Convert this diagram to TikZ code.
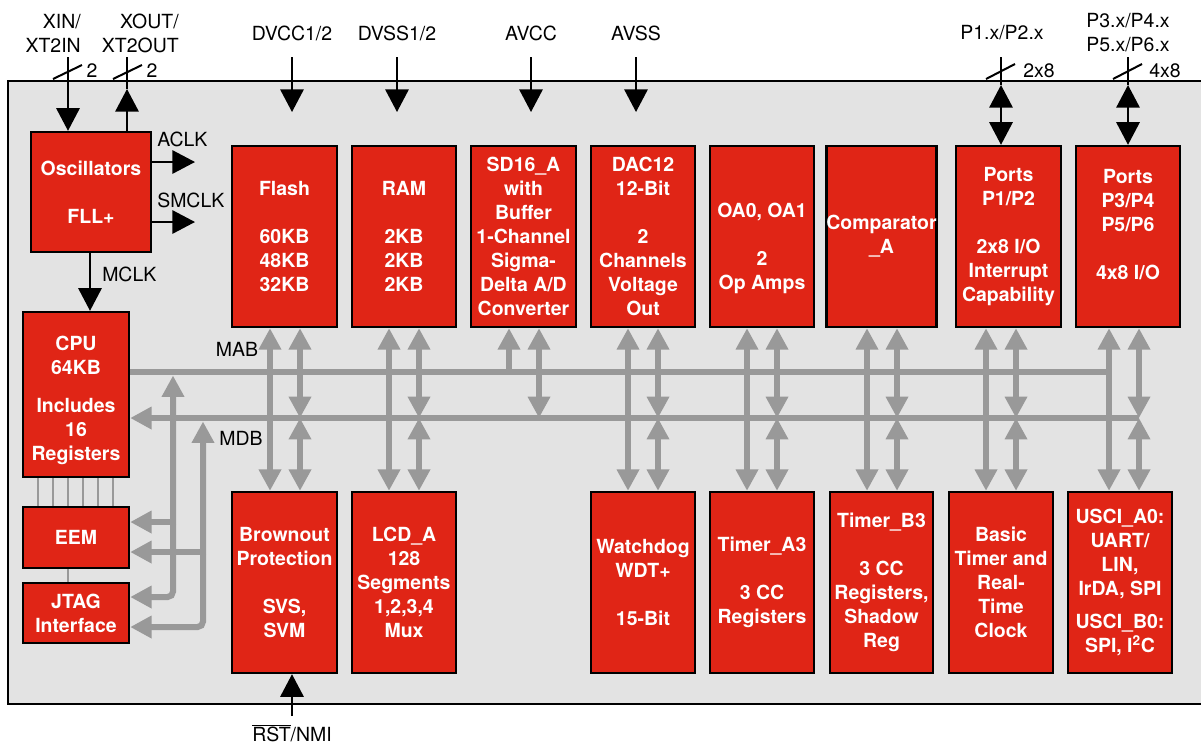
\documentclass[tikz,border=0pt]{standalone}
\usepackage{fontspec}
\setmainfont{TeX Gyre Heros}
\usetikzlibrary{arrows.meta}
\definecolor{tired}{RGB}{224,37,22}
\definecolor{busgray}{RGB}{153,153,153}
\definecolor{bggray}{RGB}{227,227,227}
\newcommand\mkblock[6]{\node[block,minimum width={(#4-#2)*0.75pt},minimum height={(#5-#3)*0.75pt}] (#1) at ({(#2+#4)/2},{(#3+#5)/2}) {#6};}
\tikzset{
  block/.style={draw=black, line width=1.8pt, fill=tired, text=white,
    font=\fontsize{14.6}{18}\selectfont\bfseries, align=center, inner sep=0pt},
  lab/.style={font=\fontsize{14.6}{18}\selectfont, inner sep=0pt},
  gtip/.tip={Triangle[width=16pt,length=16pt]},
  btip/.tip={Triangle[width=17.5pt,length=17pt]},
  gbus/.style={draw=busgray, line width=4.5pt},
  gthin/.style={draw=busgray, line width=1.3pt},
  bline/.style={draw=black, line width=1.5pt},
  barr/.style={bline, -btip},
}
\begin{document}
\begin{tikzpicture}[x=0.75pt,y=-0.75pt]
\useasboundingbox (0,0) rectangle (1201,744);
\fill[white] (0,0) rectangle (1201,744);
\draw[fill=bggray, line width=1.5pt] (8,81) rectangle (1210,704);

\coordinate (mab) at (0,372);
\coordinate (mdb) at (0,418);

% ---------- blocks ----------
\mkblock{osc}{31}{132}{151}{252}{Oscillators\\[18pt]FLL+}
\mkblock{cpu}{23}{312}{129}{477}{\rule{0pt}{10.5pt}\\[-9pt]CPU\\64KB\\[10.5pt]Includes\\16\\Registers}
\mkblock{eem}{23}{507}{129}{568}{EEM}
\mkblock{jtag}{23}{583}{129}{643}{JTAG\\Interface}
\mkblock{flash}{232}{146}{337}{327}{Flash\\[18pt]60KB\\48KB\\32KB}
\mkblock{ram}{352}{146}{456}{327}{RAM\\[18pt]2KB\\2KB\\2KB}
\mkblock{sd}{471}{146}{576}{327}{SD16\_A\\with\\Buffer\\1-Channel\\Sigma-\\Delta A/D\\Converter}
\mkblock{dac}{591}{146}{695}{327}{DAC12\\12-Bit\\[18pt]2\\Channels\\Voltage\\Out}
\mkblock{oa}{710}{146}{814}{327}{\rule{0pt}{10.5pt}\\OA0, OA1\\[18pt]2\\Op Amps}
\mkblock{comp}{830}{146}{933}{327}{Comparator\\\_A}
\mkblock{p1}{956}{146}{1061}{327}{Ports\\P1/P2\\[18pt]2x8 I/O\\Interrupt\\Capability}
\mkblock{p3}{1076}{146}{1180}{327}{Ports\\P3/P4\\P5/P6\\[18pt]4x8 I/O\\\mbox{}}
\mkblock{brown}{232}{492}{337}{673}{Brownout\\Protection\\[18pt]SVS,\\SVM}
\mkblock{lcd}{352}{492}{456}{673}{LCD\_A\\128\\Segments\\1,2,3,4\\Mux}
\mkblock{wdt}{591}{492}{695}{673}{Watchdog\\WDT+\\[18pt]15-Bit}
\mkblock{ta}{710}{492}{814}{673}{Timer\_A3\\[18pt]3 CC\\Registers}
\mkblock{tb}{830}{492}{933}{673}{Timer\_B3\\[18pt]3 CC\\Registers,\\Shadow\\Reg}
\mkblock{bt}{949}{492}{1053}{673}{Basic\\Timer and\\Real-\\Time\\Clock}
\mkblock{usci}{1068}{492}{1172}{673}{USCI\_A0:\\UART/\\LIN,\\IrDA, SPI\\[7pt]USCI\_B0:\\SPI, I\textsuperscript{2}C}

% ---------- main buses ----------
\coordinate (mabend) at (1109,0);
\coordinate (mdbend) at (1139,0);
\draw[gbus] (cpu.east |- mab) -- (mabend |- mab);
\draw[gbus,-gtip] (mdbend |- mdb) -- (cpu.east |- mdb);

\foreach \t/\b/\xl/\xr in {flash/brown/270/300, ram/lcd/389/419, dac/wdt/628/658, oa/ta/747/777, comp/tb/867/897, p1/bt/986/1016, p3/usci/1109/1139}{
  \coordinate (L) at (\xl,0);
  \coordinate (R) at (\xr,0);
  \draw[gbus,gtip-gtip] (\t.south -| L) -- (\b.north -| L);
  \draw[gbus,gtip-gtip] (\t.south -| R) -- (R |- mdb);
  \draw[gbus,gtip-gtip] (R |- mdb) -- (\b.north -| R);
}
\coordinate (sdL) at (509,0);
\coordinate (sdR) at (539,0);
\draw[gbus,-gtip] (sdL |- mab) -- (sd.south -| sdL);
\draw[gbus,gtip-gtip] (sd.south -| sdR) -- (sdR |- mdb);

% ---------- debug buses on the left ----------
\coordinate (v1) at (173,375.5);
\coordinate (v2) at (203,421.5);
\coordinate (y522) at (0,522);
\coordinate (y552) at (0,552);
\coordinate (y597) at (0,597);
\coordinate (y627) at (0,627);
\coordinate (b1) at (176,522);
\coordinate (b2) at (206,552);
\draw[gbus,gtip-gtip,rounded corners=4pt] (jtag.east |- y597) -| (v1);
\draw[gbus,gtip-gtip,rounded corners=4pt] (jtag.east |- y627) -| (v2);
\draw[gbus,-gtip] (b1) -- (eem.east |- y522);
\draw[gbus,-gtip] (b2) -- (eem.east |- y552);

\foreach \x in {38,53,68,83,98,113}{
  \coordinate (t) at (\x,0);
  \draw[gthin] (cpu.south -| t) -- (eem.north -| t);
}
\coordinate (t68) at (68,0);
\draw[gthin] (eem.south -| t68) -- (jtag.north -| t68);

% ---------- clocks ----------
\coordinate (xinTop) at (68,57);
\draw[barr] (xinTop) -- (osc.north -| xinTop);
\coordinate (xoutTop) at (127,57);
\coordinate (xoutTip) at (127,89);
\draw[bline] (xoutTop) -- (xoutTip);
\draw[barr] (osc.north -| xoutTip) -- (xoutTip);
\draw[bline] (53,79) -- (82,65);
\draw[bline] (113,79) -- (142,65);
\node[lab] (n2a) at (92,71) {2};
\node[lab] (n2b) at (152,71) {2};
\node[lab,align=right,anchor=east] (xinlab) at (81,33) {XIN/\\XT2IN};
\node[lab,align=right,anchor=east] (xoutlab) at (179,33) {XOUT/\\XT2OUT};

\coordinate (aclkTip) at (195,162);
\coordinate (smclkTip) at (195,222);
\draw[barr] (osc.east |- aclkTip) -- (aclkTip);
\draw[barr] (osc.east |- smclkTip) -- (smclkTip);
\node[lab,anchor=west] (aclk) at (157,139) {ACLK};
\node[lab,anchor=west] (smclk) at (157,200) {SMCLK};
\coordinate (mclkX) at (90,0);
\draw[barr] (osc.south -| mclkX) -- (cpu.north -| mclkX);
\node[lab,anchor=west] (mclk) at (102,274) {MCLK};

\node[lab] (mablab) at (237,349) {MAB};
\node[lab] (mdblab) at (241,438) {MDB};

% ---------- supplies ----------
\coordinate (dvccTop) at (292,57);  \coordinate (dvccTip) at (292,112);
\coordinate (dvssTop) at (397,57);  \coordinate (dvssTip) at (397,112);
\coordinate (avccTop) at (531,57);  \coordinate (avccTip) at (531,112);
\coordinate (avssTop) at (636,57);  \coordinate (avssTip) at (636,112);
\draw[barr] (dvccTop) -- (dvccTip);
\draw[barr] (dvssTop) -- (dvssTip);
\draw[barr] (avccTop) -- (avccTip);
\draw[barr] (avssTop) -- (avssTip);
\node[lab] (dvcc) at (292,33) {DVCC1/2};
\node[lab] (dvss) at (397,33) {DVSS1/2};
\node[lab] (avcc) at (531,33) {AVCC};
\node[lab] (avss) at (636,33) {AVSS};

% ---------- ports ----------
\coordinate (p1Top) at (1001,57); \coordinate (p1Tip) at (1001,85);
\coordinate (p3Top) at (1128,57); \coordinate (p3Tip) at (1128,85);
\draw[bline] (p1Top) -- (p1Tip);
\draw[bline,btip-btip] (p1Tip) -- (p1.north -| p1Tip);
\draw[bline] (p3Top) -- (p3Tip);
\draw[bline,btip-btip] (p3Tip) -- (p3.north -| p3Tip);
\draw[bline] (986,79) -- (1015,64);
\draw[bline] (1113,79) -- (1142,64);
\node[lab] (n2x8) at (1039,71) {2x8};
\node[lab] (n4x8) at (1165,71) {4x8};
\node[lab] (p1lab) at (1002,33) {P1.x/P2.x};
\node[lab,align=center] (p3lab) at (1128,33) {P3.x/P4.x\\P5.x/P6.x};

% ---------- reset ----------
\coordinate (rstBot) at (292,716);
\draw[barr] (rstBot) -- (brown.south -| rstBot);
\node[lab] (rst) at (292,733) {$\overline{\mbox{RST}}$/NMI};
\end{tikzpicture}
\end{document}
